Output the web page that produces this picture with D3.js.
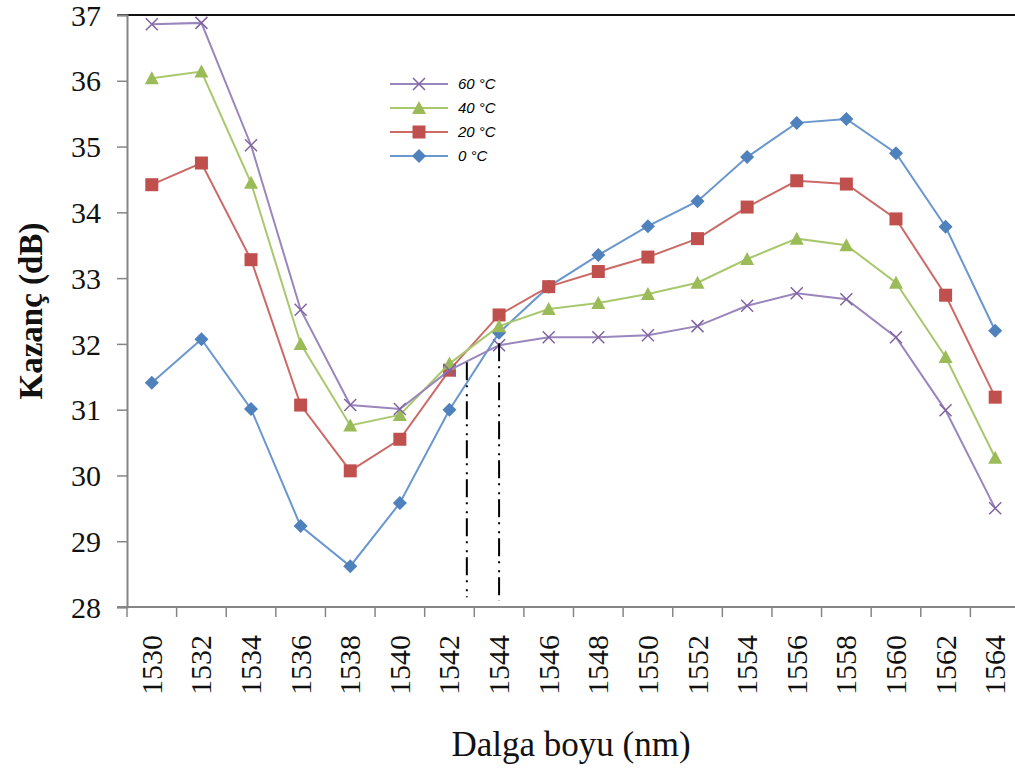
<!DOCTYPE html>
<html>
<head>
<meta charset="utf-8">
<script src="https://cdn.jsdelivr.net/npm/d3@7"></script>
<style>
  html, body { margin: 0; padding: 0; background: #fff; }
  svg { display: block; }
</style>
</head>
<body>
<svg id="chart" width="1015" height="772"></svg>
<script>
// Wavelength categories (nm)
const wavelengths = [1530, 1532, 1534, 1536, 1538, 1540, 1542, 1544, 1546, 1548,
                     1550, 1552, 1554, 1556, 1558, 1560, 1562, 1564];

// Gain (dB) per temperature
const gain60 = [36.86, 36.88, 35.02, 32.52, 31.07, 31.01, 31.60, 31.98, 32.10, 32.10,
                32.13, 32.27, 32.58, 32.77, 32.68, 32.10, 30.99, 29.50];
const gain40 = [36.04, 36.14, 34.45, 32.00, 30.76, 30.92, 31.70, 32.27, 32.53, 32.62,
                32.76, 32.93, 33.29, 33.60, 33.50, 32.93, 31.80, 30.27];
const gain20 = [34.42, 34.75, 33.28, 31.07, 30.07, 30.55, 31.60, 32.44, 32.87, 33.10,
                33.32, 33.60, 34.08, 34.48, 34.43, 33.90, 32.74, 31.19];
const gain0  = [31.41, 32.07, 31.01, 29.23, 28.62, 29.58, 31.00, 32.17, 32.87, 33.35,
                33.79, 34.17, 34.84, 35.36, 35.42, 34.90, 33.78, 32.20];

// Series names, colours and marker shapes
const seriesNames  = ["60 °C", "40 °C", "20 °C", "0 °C"];
const seriesColors = ["#8064A2", "#9BBB59", "#C0504D", "#4F81BD"];
const seriesLines  = ["#9a86bd", "#a9c86e", "#cc6a67", "#6a97cf"];
const seriesShapes = ["cross", "triangle", "square", "diamond"];
const seriesValues = [gain60, gain40, gain20, gain0];

// Y ticks
const yTicks = [28, 29, 30, 31, 32, 33, 34, 35, 36, 37];

// Vertical dash-dot markers: wavelength, upper gain end, lower gain end
const markerWl   = [1542.7, 1544];
const markerTop  = [31.72, 32.01];
const markerLow  = [28.15, 28.10];

const svg = d3.select("#chart");
const plotLeft = 127, plotRight = 1020, plotTop = 15, plotBottom = 607;

const x = d3.scaleBand().domain(wavelengths).range([plotLeft, plotRight]).padding(0);
const bw = x.bandwidth();
const xc = d => x(d) + bw / 2;
const xWl = d3.scaleLinear()
  .domain([wavelengths[0], wavelengths[wavelengths.length - 1]])
  .range([xc(wavelengths[0]), xc(wavelengths[wavelengths.length - 1])]);
const y = d3.scaleLinear().domain([28, 37]).range([plotBottom, plotTop]);

const axisColor = "#868686";

// Top border
svg.append("line")
  .attr("x1", plotLeft - 10).attr("x2", 1015)
  .attr("y1", y(37)).attr("y2", y(37))
  .attr("stroke", "#111").attr("stroke-width", 2);

// Y axis
const yAxis = svg.append("g")
  .attr("transform", `translate(${plotLeft},0)`)
  .call(d3.axisLeft(y).tickValues(yTicks).tickSize(10).tickPadding(16).tickFormat(d3.format("d")));
yAxis.select(".domain").attr("stroke", axisColor).attr("stroke-width", 2);
yAxis.selectAll(".tick line").attr("stroke", axisColor).attr("stroke-width", 1.5);
yAxis.selectAll(".tick text")
  .attr("fill", "#111")
  .attr("dy", "0.34em")
  .style("font-family", "'Liberation Serif', 'Times New Roman', serif")
  .style("font-size", "30px");

// X axis: boundary ticks between bands, labels at band centres
const xAxis = svg.append("g").attr("transform", `translate(0,${plotBottom})`);
xAxis.append("line")
  .attr("x1", plotLeft - 10).attr("x2", 1015)
  .attr("y1", 0).attr("y2", 0)
  .attr("stroke", axisColor).attr("stroke-width", 2);
xAxis.selectAll("line.tk")
  .data(wavelengths)
  .join("line")
  .attr("class", "tk")
  .attr("x1", d => x(d)).attr("x2", d => x(d))
  .attr("y1", 0).attr("y2", 10)
  .attr("stroke", axisColor).attr("stroke-width", 1.5);
xAxis.selectAll("text.lbl")
  .data(wavelengths)
  .join("text")
  .attr("class", "lbl")
  .attr("transform", d => `translate(${xc(d) + 10},${28}) rotate(-90)`)
  .attr("text-anchor", "end")
  .attr("fill", "#111")
  .style("font-family", "'Liberation Serif', 'Times New Roman', serif")
  .style("font-size", "30px")
  .text(d => d);

// Axis titles
svg.append("text")
  .attr("transform", `translate(42,${311}) rotate(-90)`)
  .attr("text-anchor", "middle")
  .attr("fill", "#111")
  .style("font-family", "'Liberation Serif', 'Times New Roman', serif")
  .style("font-size", "33px")
  .style("font-weight", "bold")
  .text("Kazanç (dB)");

svg.append("text")
  .attr("x", 571).attr("y", 756)
  .attr("text-anchor", "middle")
  .attr("fill", "#111")
  .style("font-family", "'Liberation Serif', 'Times New Roman', serif")
  .style("font-size", "35px")
  .text("Dalga boyu (nm)");

// Marker drawing
function drawMarker(g, shape, color) {
  if (shape === "cross") {
    const s = 6;
    g.append("path")
      .attr("d", `M${-s},${-s}L${s},${s}M${-s},${s}L${s},${-s}`)
      .attr("stroke", color).attr("stroke-width", 1.5).attr("fill", "none");
  } else if (shape === "triangle") {
    g.append("path").attr("d", "M0,-7L7,6L-7,6Z").attr("fill", color);
  } else if (shape === "square") {
    g.append("rect").attr("x", -6.5).attr("y", -6.5).attr("width", 13).attr("height", 13).attr("fill", color);
  } else {
    g.append("path").attr("d", "M0,-7L7,0L0,7L-7,0Z").attr("fill", color);
  }
}

const line = d3.line().x(d => xc(d.wl)).y(d => y(d.v));

// Series lines (drawn from the last legend entry upward)
for (let i = seriesValues.length - 1; i >= 0; i--) {
  const pts = wavelengths.map((wl, j) => ({ wl, v: seriesValues[i][j] }));
  const g = svg.append("g");
  g.append("path")
    .datum(pts)
    .attr("d", line)
    .attr("fill", "none")
    .attr("stroke", seriesLines[i])
    .attr("stroke-width", 2);
  g.selectAll("g.m")
    .data(pts)
    .join("g")
    .attr("class", "m")
    .attr("transform", d => `translate(${xc(d.wl)},${y(d.v)})`)
    .each(function () { drawMarker(d3.select(this), seriesShapes[i], seriesColors[i]); });
}

// Vertical dash-dot reference lines
svg.selectAll("line.ref")
  .data(markerWl)
  .join("line")
  .attr("class", "ref")
  .attr("x1", d => xWl(d)).attr("x2", d => xWl(d))
  .attr("y1", (d, i) => y(markerTop[i]))
  .attr("y2", (d, i) => y(markerLow[i]))
  .attr("stroke", "#000")
  .attr("stroke-width", 2)
  .attr("stroke-dasharray", "18,5,2,7,2,5");

// Legend
const legend = svg.append("g");
seriesNames.forEach((name, i) => {
  const ly = 84 + i * 24;
  const row = legend.append("g");
  row.append("line")
    .attr("x1", 390).attr("x2", 448).attr("y1", ly).attr("y2", ly)
    .attr("stroke", seriesLines[i]).attr("stroke-width", 2);
  const m = row.append("g").attr("transform", `translate(419,${ly})`);
  drawMarker(m, seriesShapes[i], seriesColors[i]);
  row.append("text")
    .attr("x", 458).attr("y", ly + 5)
    .attr("fill", "#000")
    .style("font-family", "'Liberation Sans', Arial, sans-serif")
    .style("font-size", "15px")
    .style("font-style", "italic")
    .text(name);
});
</script>
</body>
</html>
